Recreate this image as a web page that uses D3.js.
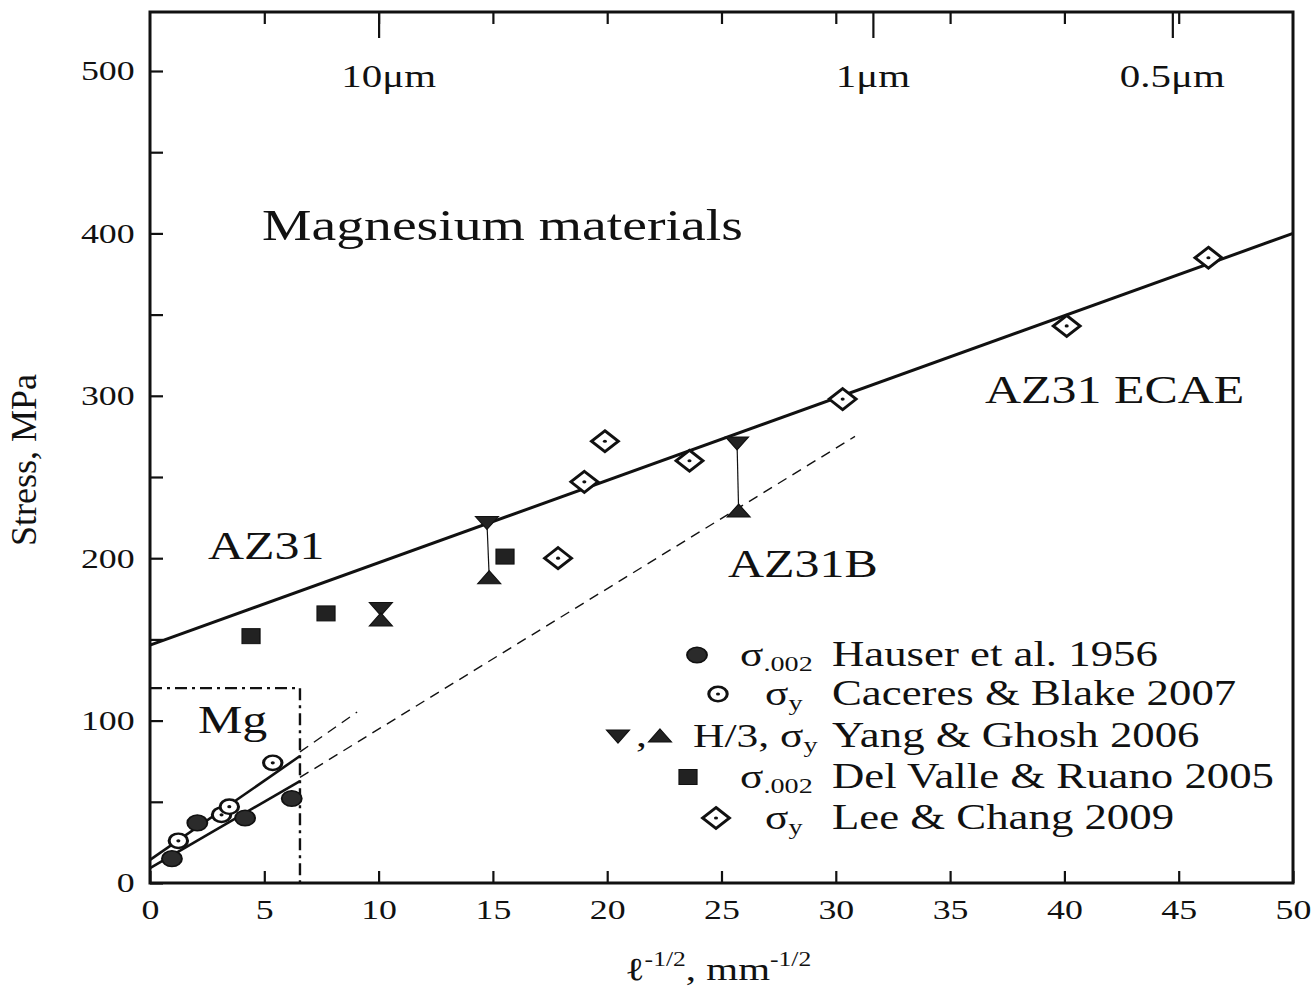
<!DOCTYPE html>
<html>
<head>
<meta charset="utf-8">
<script src="https://cdn.jsdelivr.net/npm/d3@7"></script>
<style>
  body { margin: 0; background: #fff; }
  text { font-family: "Liberation Serif", "Times New Roman", serif; fill: #111; }
</style>
</head>
<body>
<svg id="chart" width="1311" height="998"></svg>
<script>
// --- DATA ---
// x = l^-1/2 (mm^-1/2), y = stress (MPa)
const hauser = [[0.96, 15], [2.07, 37], [4.16, 40], [6.2, 52]];
const caceres = [[1.24, 26], [3.13, 42], [3.47, 47], [5.37, 74]];
const yangH3 = [[10.1, 169], [14.74, 222], [25.68, 271]];   // H/3, down triangles
const yangSy = [[10.1, 162], [14.84, 188], [25.75, 229]];   // sigma_y, up triangles
const delValle = [[4.42, 152], [7.7, 166], [15.53, 201]];
const leeChang = [[17.85, 200], [19.0, 247], [19.9, 272], [23.6, 260], [30.3, 298], [40.1, 343], [46.3, 385]];

const az31Line = [[0, 146.5], [50, 400]];
const az31bDashed = [[6.56, 65], [30.84, 275]];
const mgUpper = [[0, 14.2], [6.56, 78.2]];
const mgUpperDashed = [[6.56, 80.7], [9.06, 105.3]];
const mgLower = [[0, 9.2], [6.56, 62.8]];
const mgBox = [[0, 120], [6.56, 120], [6.56, 0]];

const xTickValues = [0, 5, 10, 15, 20, 25, 30, 35, 40, 45, 50];
const yTickValues = [0, 50, 100, 150, 200, 250, 300, 350, 400, 450, 500];
const yLabelValues = [0, 100, 200, 300, 400, 500];
const grainSizesUm = [10, 1, 0.5];
const grainLabels = ['10\u03bcm', '1\u03bcm', '0.5\u03bcm'];

const legendRefs = ['Hauser et al. 1956', 'Caceres & Blake 2007', 'Yang & Ghosh 2006', 'Del Valle & Ruano 2005', 'Lee & Chang 2009'];
const legendSymbols = [
  [['\u03c3', ''], ['.002', 'sub']],
  [['\u03c3', ''], ['y', 'sub']],
  [['H/3, \u03c3', ''], ['y', 'sub']],
  [['\u03c3', ''], ['.002', 'sub']],
  [['\u03c3', ''], ['y', 'sub']]
];
const legendMarkers = [['filled'], ['open'], ['down', 'up'], ['square'], ['diamond']];

// --- LAYOUT ---
const SX = 1.28; // the scan is stretched horizontally
const svg = d3.select('#chart');
const x = d3.scaleLinear().domain([0, 50]).range([150, 1293]);
const y = d3.scaleLinear().domain([0, 500]).range([883, 71]);
const frameTop = 12;

function addText(g, str, px, py, size, anchor = 'start') {
  return g.append('text')
    .attr('transform', `translate(${px},${py}) scale(${SX},1)`)
    .attr('text-anchor', anchor)
    .attr('font-size', size)
    .text(str);
}

function drawMarker(g, type, px, py) {
  const m = g.append('g').attr('transform', `translate(${px},${py}) scale(${SX},1)`);
  if (type === 'filled') {
    m.append('circle').attr('r', 7.8).attr('fill', '#2b2b2b').attr('stroke', '#111').attr('stroke-width', 1.5);
  } else if (type === 'open') {
    m.append('circle').attr('r', 7.2).attr('fill', '#fff').attr('stroke', '#111').attr('stroke-width', 2.4);
    m.append('circle').attr('r', 1.6).attr('fill', '#111');
  } else if (type === 'down') {
    m.append('path').attr('d', 'M-9,-6L9,-6L0,7Z').attr('fill', '#222').attr('stroke', '#111').attr('stroke-width', 1);
  } else if (type === 'up') {
    m.append('path').attr('d', 'M0,-7L9,6L-9,6Z').attr('fill', '#222').attr('stroke', '#111').attr('stroke-width', 1);
  } else if (type === 'square') {
    m.append('rect').attr('x', -7).attr('y', -7.5).attr('width', 14).attr('height', 15)
      .attr('fill', '#222').attr('stroke', '#111').attr('stroke-width', 1);
  } else if (type === 'diamond') {
    m.append('path').attr('d', 'M0,-10.5L10.5,0L0,10.5L-10.5,0Z').attr('fill', '#fff')
      .attr('stroke', '#111').attr('stroke-width', 2.6);
    m.append('circle').attr('r', 1.6).attr('fill', '#111');
  }
}

const line = d3.line().x(d => x(d[0])).y(d => y(d[1]));

// --- AXES ---
const xAxis = svg.append('g').attr('transform', `translate(0,${y(0)})`)
  .call(d3.axisBottom(x).tickValues(xTickValues).tickSize(-12).tickPadding(16));
const yAxis = svg.append('g').attr('transform', `translate(${x(0)},0)`)
  .call(d3.axisLeft(y).tickValues(yTickValues).tickSize(-13).tickPadding(12)
    .tickFormat(d => yLabelValues.includes(d) ? d : ''));
const topAxis = svg.append('g').attr('transform', `translate(0,${frameTop})`)
  .call(d3.axisTop(x).tickValues(xTickValues.slice(1, -1)).tickSize(-12).tickFormat(''));
const grainAxis = svg.append('g').attr('transform', `translate(0,${frameTop})`)
  .call(d3.axisTop(x).tickValues(grainSizesUm.map(um => 1 / Math.sqrt(um / 1000))).tickSize(-26).tickFormat(''));

[xAxis, yAxis, topAxis, grainAxis].forEach(a => {
  a.select('.domain').remove();
  a.selectAll('.tick line').attr('stroke', '#111').attr('stroke-width', 2.2);
  a.selectAll('.tick text').attr('font-size', 28).attr('fill', '#111')
    .attr('font-family', '"Liberation Serif", "Times New Roman", serif')
    .attr('transform', `scale(${SX},1)`);
});

// frame
svg.append('path')
  .attr('d', `M${x(0)},${frameTop}H${x(50)}V${y(0)}H${x(0)}Z`)
  .attr('fill', 'none').attr('stroke', '#111').attr('stroke-width', 3);

// grain size labels on top
grainSizesUm.forEach((um, i) => {
  addText(svg, grainLabels[i], x(1 / Math.sqrt(um / 1000)) + (i === 0 ? 10 : 0), 87, 32, 'middle');
});

// --- LINES ---
const plot = svg.append('g');
plot.append('path').datum(az31Line).attr('d', line).attr('fill', 'none').attr('stroke', '#111').attr('stroke-width', 3);
plot.append('path').datum(az31bDashed).attr('d', line).attr('fill', 'none').attr('stroke', '#111')
  .attr('stroke-width', 1.4).attr('stroke-dasharray', '10,7');
plot.append('path').datum(mgUpperDashed).attr('d', line).attr('fill', 'none').attr('stroke', '#111')
  .attr('stroke-width', 1.4).attr('stroke-dasharray', '10,7');
plot.append('path').datum(mgUpper).attr('d', line).attr('fill', 'none').attr('stroke', '#111').attr('stroke-width', 2.6);
plot.append('path').datum(mgLower).attr('d', line).attr('fill', 'none').attr('stroke', '#111').attr('stroke-width', 2.6);
plot.append('path').datum(mgBox).attr('d', line).attr('fill', 'none').attr('stroke', '#111')
  .attr('stroke-width', 2.4).attr('stroke-dasharray', '12,5,3,5');

// Yang & Ghosh connectors
yangH3.forEach((d, i) => {
  plot.append('line')
    .attr('x1', x(d[0])).attr('y1', y(d[1]))
    .attr('x2', x(yangSy[i][0])).attr('y2', y(yangSy[i][1]))
    .attr('stroke', '#111').attr('stroke-width', 1.2);
});

// --- MARKERS ---
hauser.forEach(d => drawMarker(plot, 'filled', x(d[0]), y(d[1])));
caceres.forEach(d => drawMarker(plot, 'open', x(d[0]), y(d[1])));
yangH3.forEach(d => drawMarker(plot, 'down', x(d[0]), y(d[1])));
yangSy.forEach(d => drawMarker(plot, 'up', x(d[0]), y(d[1])));
delValle.forEach(d => drawMarker(plot, 'square', x(d[0]), y(d[1])));
leeChang.forEach(d => drawMarker(plot, 'diamond', x(d[0]), y(d[1])));

// --- ANNOTATIONS ---
addText(svg, 'Magnesium materials', 262, 240, 43.5);
addText(svg, 'AZ31', 208, 559, 39);
addText(svg, 'AZ31B', 728, 577, 39);
addText(svg, 'AZ31 ECAE', 985, 403, 39);
addText(svg, 'Mg', 198, 733, 39);

// --- LEGEND ---
const legendRowY = [666, 705, 747, 788, 829];
const legendSymX = [740, 765, 693, 740, 765];
const legendMarkerX = [[697], [718], [618, 660], [688], [716]];
const legend = svg.append('g');
legendRefs.forEach((ref, i) => {
  const by = legendRowY[i];
  addText(legend, ref, 832, by, 35);
  const t = addText(legend, '', legendSymX[i], by, 34);
  legendSymbols[i].forEach(([s, kind]) => {
    const ts = t.append('tspan').text(s);
    if (kind === 'sub') ts.attr('font-size', 22).attr('dy', 5);
  });
  legendMarkers[i].forEach((m, j) => drawMarker(legend, m, legendMarkerX[i][j], by - 11));
  if (legendMarkers[i].length > 1) addText(legend, ',', 636, by, 34);
});

// --- AXIS TITLES ---
svg.append('text')
  .attr('transform', 'translate(36,460) rotate(-90)')
  .attr('text-anchor', 'middle').attr('font-size', 36)
  .text('Stress, MPa');

const xt = addText(svg, '', 625, 980, 32);
xt.append('tspan').text('\u2113');
xt.append('tspan').text('-1/2').attr('font-size', 20).attr('dy', -14);
xt.append('tspan').text(', mm').attr('dy', 14);
xt.append('tspan').text('-1/2').attr('font-size', 20).attr('dy', -14);
</script>
</body>
</html>
